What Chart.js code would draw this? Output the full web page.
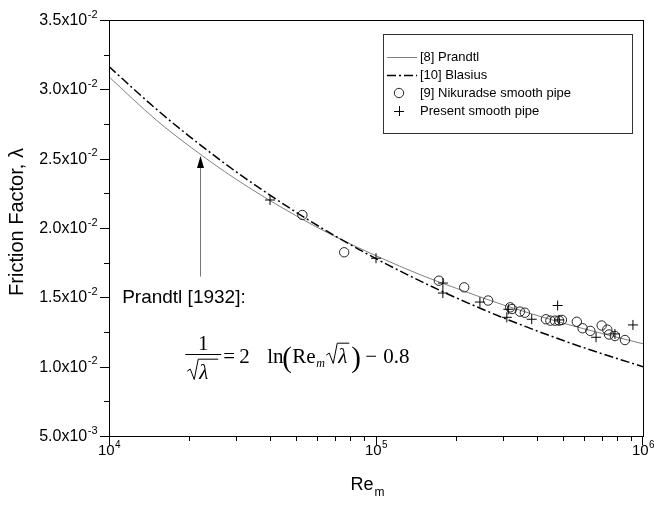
<!DOCTYPE html>
<html>
<head>
<meta charset="utf-8">
<script src="https://cdn.jsdelivr.net/npm/chart.js@4.4.0/dist/chart.umd.min.js"></script>
<style>
  html, body { margin: 0; padding: 0; background: #fff; }
  #wrap { width: 654px; height: 507px; position: relative; }
</style>
</head>
<body>
<div id="wrap"><canvas id="chart"></canvas></div>
<script>
// curves
const reCurve = [1e4, 1.5e4, 2e4, 3e4, 5e4, 7e4, 1e5, 1.5e5, 2e5, 3e5, 5e5, 7e5, 1e6];
const prandtlF = [0.0309, 0.0278, 0.0259, 0.0235, 0.0209, 0.0194, 0.0180, 0.01655, 0.01565, 0.01445, 0.01315, 0.0124, 0.01165];
const blasiusF = [0.03164, 0.02859, 0.02661, 0.02404, 0.02116, 0.01945, 0.01779, 0.01608, 0.01496, 0.01352, 0.0119, 0.01094, 0.0100];

// Nikuradse smooth pipe (circles)
const nikRe = [53000, 76000, 172000, 214000, 263000, 318000, 323000, 346000, 361000, 433000, 450000, 468000, 485000, 497000, 565000, 594000, 635000, 700000, 735000, 746000, 785000, 856000];
const nikF = [0.02094, 0.01825, 0.0162, 0.01572, 0.01477, 0.01428, 0.01416, 0.01397, 0.01389, 0.01342, 0.01332, 0.01332, 0.01332, 0.01337, 0.01324, 0.01277, 0.01258, 0.01297, 0.01267, 0.01232, 0.01221, 0.01192];

// present smooth pipe (crosses)
const presRe = [40100, 100000, 178000, 178000, 245000, 313000, 309000, 383000, 479000, 485000, 667000, 785000, 917000];
const presF = [0.02202, 0.01782, 0.01603, 0.01531, 0.01466, 0.01414, 0.01356, 0.01342, 0.01441, 0.01337, 0.01212, 0.01236, 0.01301];

const legendLabels = ['[8] Prandtl', '[10] Blasius', '[9] Nikuradse smooth pipe', 'Present smooth pipe'];
const yTickValues = [0.005, 0.01, 0.015, 0.02, 0.025, 0.03, 0.035];
const xTickValues = [1e4, 1e5, 1e6];

// annotation anchors in data units
const arrowFrom = [22000, 0.0165];
const arrowTo = [22000, 0.0252];
const noteAt = [11200, 0.01495];
const formulaAt = [19300, 0.0109];

const SANS = '"Liberation Sans", Arial, sans-serif';
const SERIF = '"Liberation Serif", "Times New Roman", serif';

const pts = (xs, ys) => xs.map((v, i) => ({ x: v, y: ys[i] }));

function sciLabel(v) {
  const e = Math.floor(Math.log10(v) + 1e-9);
  const m = v / Math.pow(10, e);
  return { main: m.toFixed(1) + 'x10', sup: String(e) };
}

function drawSup(ctx, main, sup, x, y, align, size) {
  ctx.font = size + 'px ' + SANS;
  const w1 = ctx.measureText(main).width;
  ctx.font = Math.round(size * 0.68) + 'px ' + SANS;
  const w2 = ctx.measureText(sup).width;
  let start = x;
  if (align === 'right') start = x - w1 - w2;
  if (align === 'center') start = x - (w1 + w2) / 2;
  ctx.textAlign = 'left';
  ctx.textBaseline = 'alphabetic';
  ctx.font = size + 'px ' + SANS;
  ctx.fillText(main, start, y);
  ctx.font = Math.round(size * 0.68) + 'px ' + SANS;
  ctx.fillText(sup, start + w1 + 0.5, y - size * 0.45);
}

function drawRadical(ctx, x, yBase, w, size) {
  ctx.beginPath();
  ctx.moveTo(x, yBase - size * 0.35);
  ctx.lineTo(x + 3, yBase - size * 0.45);
  ctx.lineTo(x + 7, yBase + 1);
  ctx.lineTo(x + 11, yBase - size * 0.92);
  ctx.lineTo(x + w, yBase - size * 0.92);
  ctx.stroke();
  ctx.font = 'italic ' + size + 'px ' + SERIF;
  ctx.fillText('\u03bb', x + 12, yBase);
}

const decorations = {
  id: 'decorations',
  afterDraw(chart) {
    const { ctx, chartArea: a, scales: { x, y } } = chart;
    ctx.save();
    ctx.fillStyle = '#000';
    ctx.strokeStyle = '#000';
    ctx.lineWidth = 1;

    // frame
    ctx.strokeRect(a.left + 0.5, a.top + 0.5, a.right - a.left, a.bottom - a.top);

    // x ticks (log, minor at 2..9)
    ctx.beginPath();
    for (let dec = 1e4; dec < 1e6; dec *= 10) {
      for (let m = 1; m <= 9; m++) {
        const px = Math.round(x.getPixelForValue(m * dec)) + 0.5;
        const len = m === 1 ? 9 : 5;
        ctx.moveTo(px, a.bottom);
        ctx.lineTo(px, a.bottom + len);
      }
    }
    const pEnd = Math.round(x.getPixelForValue(1e6)) - 0.5;
    ctx.moveTo(pEnd, a.bottom);
    ctx.lineTo(pEnd, a.bottom + 9);

    // y ticks
    for (let v = 0.005; v <= 0.0351; v += 0.0025) {
      const py = Math.round(y.getPixelForValue(v)) + 0.5;
      const major = Math.abs((v / 0.005) - Math.round(v / 0.005)) < 1e-6;
      ctx.moveTo(a.left, py);
      ctx.lineTo(a.left - (major ? 9 : 5), py);
    }
    ctx.stroke();

    // tick labels
    ctx.fillStyle = '#000';
    yTickValues.forEach(v => {
      const l = sciLabel(v);
      drawSup(ctx, l.main, l.sup, a.left - 12, y.getPixelForValue(v) + 5, 'right', 16);
    });
    xTickValues.forEach(v => {
      drawSup(ctx, '10', String(Math.round(Math.log10(v))), x.getPixelForValue(v), a.bottom + 19, 'center', 15);
    });

    // axis titles
    ctx.font = '20px ' + SANS;
    ctx.textAlign = 'center';
    ctx.textBaseline = 'middle';
    ctx.save();
    ctx.translate(17, (a.top + a.bottom) / 2 - 6);
    ctx.rotate(-Math.PI / 2);
    ctx.fillText('Friction Factor, \u03bb', 0, 0);
    ctx.restore();

    ctx.font = '18px ' + SANS;
    ctx.textAlign = 'left';
    ctx.textBaseline = 'alphabetic';
    const reW = ctx.measureText('Re').width;
    const cx = (a.left + a.right) / 2 - 10;
    ctx.fillText('Re', cx - reW / 2 - 4, 490);
    ctx.font = '12px ' + SANS;
    ctx.fillText('m', cx + reW / 2 - 3, 496);

    // legend box
    const lx = 383, ly = 34, lw = 249, lh = 99;
    ctx.strokeStyle = '#333';
    ctx.strokeRect(lx + 0.5, ly + 0.5, lw, lh);
    const ds = chart.data.datasets;
    ctx.font = '13px ' + SANS;
    ctx.textBaseline = 'middle';
    legendLabels.forEach((lab, i) => {
      const yy = ly + 23 + i * 18;
      const d = ds[i];
      ctx.save();
      ctx.strokeStyle = d.borderColor;
      ctx.lineWidth = d.borderWidth || 1;
      if (i < 2) {
        ctx.setLineDash(d.borderDash || []);
        ctx.beginPath();
        ctx.moveTo(lx + 4, yy + 0.5);
        ctx.lineTo(lx + 34, yy + 0.5);
        ctx.stroke();
      } else if (i === 2) {
        ctx.beginPath();
        ctx.arc(lx + 16, yy, 4.7, 0, Math.PI * 2);
        ctx.stroke();
      } else {
        ctx.beginPath();
        ctx.moveTo(lx + 11, yy + 0.5); ctx.lineTo(lx + 21, yy + 0.5);
        ctx.moveTo(lx + 16.5, yy - 5); ctx.lineTo(lx + 16.5, yy + 5);
        ctx.stroke();
      }
      ctx.restore();
      ctx.fillStyle = '#000';
      ctx.fillText(lab, lx + 37, yy);
    });

    // arrow
    const ax = Math.round(x.getPixelForValue(arrowTo[0])) + 0.5;
    const ay0 = y.getPixelForValue(arrowFrom[1]);
    const ay1 = y.getPixelForValue(arrowTo[1]);
    ctx.strokeStyle = '#777';
    ctx.lineWidth = 1;
    ctx.beginPath();
    ctx.moveTo(ax, ay0);
    ctx.lineTo(ax, ay1 + 12);
    ctx.stroke();
    ctx.fillStyle = '#000';
    ctx.beginPath();
    ctx.moveTo(ax, ay1);
    ctx.lineTo(ax - 3.5, ay1 + 12);
    ctx.lineTo(ax + 3.5, ay1 + 12);
    ctx.closePath();
    ctx.fill();

    // note
    ctx.fillStyle = '#000';
    ctx.font = '19px ' + SANS;
    ctx.textBaseline = 'middle';
    ctx.fillText('Prandtl [1932]:', x.getPixelForValue(noteAt[0]), y.getPixelForValue(noteAt[1]));

    // formula
    const fx = x.getPixelForValue(formulaAt[0]);
    const fy = Math.round(y.getPixelForValue(formulaAt[1])) + 0.5;
    const fs = 21;
    ctx.strokeStyle = '#000';
    ctx.lineWidth = 1;
    ctx.textBaseline = 'alphabetic';
    ctx.textAlign = 'center';
    ctx.font = fs + 'px ' + SERIF;
    ctx.fillText('1', fx + 18, fy - 5);
    ctx.textAlign = 'left';
    ctx.beginPath();
    ctx.moveTo(fx, fy); ctx.lineTo(fx + 36, fy);
    ctx.stroke();
    drawRadical(ctx, fx + 2, fy + 24, 31, fs);

    const base = fy + 8;
    ctx.font = fs + 'px ' + SERIF;
    ctx.fillText('=', fx + 38, base);
    ctx.fillText('2', fx + 54, base);
    ctx.fillText('ln', fx + 82, base);
    ctx.font = '29px ' + SERIF;
    ctx.fillText('(', fx + 97, base + 4);
    ctx.font = fs + 'px ' + SERIF;
    ctx.fillText('Re', fx + 107, base);
    ctx.font = 'italic 12px ' + SERIF;
    ctx.fillText('m', fx + 131, base + 4);
    drawRadical(ctx, fx + 141, base, 23, fs);
    ctx.font = '29px ' + SERIF;
    ctx.fillText(')', fx + 166, base + 4);
    ctx.font = fs + 'px ' + SERIF;
    ctx.fillText('\u2212', fx + 180, base);
    ctx.fillText('0.8', fx + 198, base);

    ctx.restore();
  }
};

new Chart(document.getElementById('chart'), {
  type: 'scatter',
  data: {
    datasets: [
      {
        label: legendLabels[0],
        data: pts(reCurve, prandtlF),
        showLine: true,
        borderColor: '#808080',
        borderWidth: 1,
        pointRadius: 0,
        cubicInterpolationMode: 'monotone',
        order: 3
      },
      {
        label: legendLabels[1],
        data: pts(reCurve, blasiusF),
        showLine: true,
        borderColor: '#000',
        borderWidth: 1.5,
        borderDash: [9, 3, 2, 3],
        pointRadius: 0,
        cubicInterpolationMode: 'monotone',
        order: 2
      },
      {
        label: legendLabels[2],
        data: pts(nikRe, nikF),
        pointStyle: 'circle',
        pointRadius: 4.7,
        borderColor: '#222',
        backgroundColor: 'rgba(0,0,0,0)',
        borderWidth: 1,
        order: 1
      },
      {
        label: legendLabels[3],
        data: pts(presRe, presF),
        pointStyle: 'cross',
        pointRadius: 5,
        borderColor: '#000',
        borderWidth: 1,
        order: 0
      }
    ]
  },
  options: {
    responsive: true,
    maintainAspectRatio: false,
    animation: false,
    devicePixelRatio: 1,
    layout: { padding: { top: 20, right: 11, left: 0, bottom: 0 } },
    plugins: { legend: { display: false }, tooltip: { enabled: false } },
    scales: {
      x: {
        type: 'logarithmic',
        min: 1e4,
        max: 1e6,
        ticks: { display: false },
        grid: { display: false },
        border: { display: false },
        afterFit: s => { s.height = 71; }
      },
      y: {
        min: 0.005,
        max: 0.035,
        ticks: { display: false },
        grid: { display: false },
        border: { display: false },
        afterFit: s => { s.width = 109; }
      }
    }
  },
  plugins: [decorations]
});
</script>
</body>
</html>
